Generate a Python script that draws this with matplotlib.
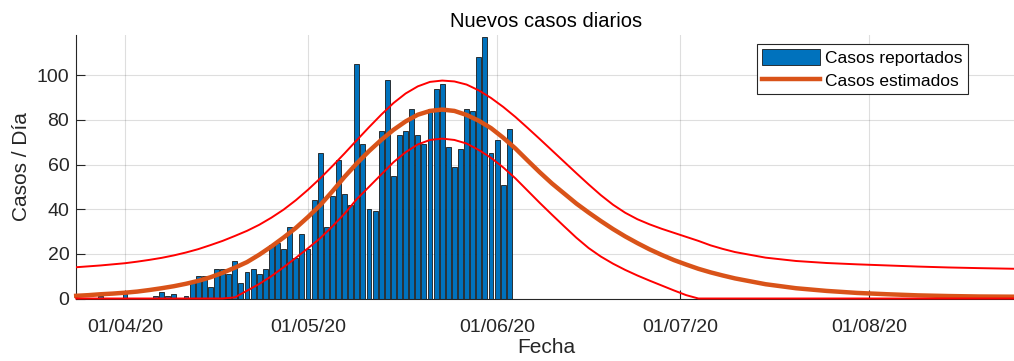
import numpy as np
import matplotlib
matplotlib.use('Agg')
import matplotlib.pyplot as plt
import matplotlib.dates as mdates

plt.rcParams['font.family'] = ['Liberation Sans', 'DejaVu Sans']

base = np.datetime64('2020-04-01')

# reported daily cases, one value per day starting 25/03/20
bar_start = np.datetime64('2020-03-25')
cases = [0, 0, 0, 1, 0, 0, 0, 2, 0, 0, 0, 0, 1, 3, 1, 2, 0, 1,
         8, 10, 10, 5, 13, 13, 11, 17, 7, 12, 13, 11, 13, 24, 25, 22,
         32, 18, 29, 22, 44, 65, 32, 46, 62, 47, 42, 105, 69, 40, 39,
         75, 98, 55, 73, 75, 85, 73, 69, 85, 94, 96, 68, 59, 67, 85,
         84, 108, 117, 65, 71, 51, 76]

# fitted curve (days after 01/04/20)
curve_days = list(range(-8, 101, 2)) + [105, 110, 115, 120, 125, 130,
                                          135, 140, 146]
estimated = [1.2, 1.5, 1.9, 2.2, 2.6, 3.1, 3.8, 4.6, 5.5, 6.6, 7.9, 9.5,
             11.5, 13.8, 16.3, 19.6, 23.3, 27.3, 31.6, 36.5, 41.8, 48,
             54.5, 60.5, 66, 71, 75.5, 79.3, 82.3, 84, 84.6, 84, 82.2,
             79.6, 76.3, 72, 67.2, 61.8, 56.5, 51.5, 47, 42.5, 38.5, 34.7,
             31.1, 27.8, 24.8, 22, 19.5, 17.2, 15.2, 13.3, 11.7, 10.3, 9,
             6.4, 4.6, 3.4, 2.5, 1.9, 1.4, 1.1, 0.9, 0.8]
upper = [14, 14.4, 14.8, 15.3, 15.8, 16.5, 17.3, 18.2, 19.3, 20.6, 22.1,
         23.9, 25.8, 28, 30.3, 33, 36.2, 39.8, 44, 48.7, 53.8, 59.3, 65,
         70.9, 76.7, 82.3, 87.5, 91.8, 95, 97, 97.6, 97.2, 95.8, 93.2,
         89.8, 85.8, 81.3, 76.4, 71.4, 66.3, 61.2, 56.1, 51.1, 46.3, 42,
         38.4, 35.5, 33.2, 31.2, 29.4, 27.6, 25.8, 23.8, 22.2, 20.8,
         18.3, 16.8, 15.9, 15.3, 14.8, 14.3, 13.9, 13.6, 13.3]
lower = [0, 0, 0, 0, 0, 0, 0, 0, 0, 0, 0, 0, 0, 0.5, 3.5, 6.5, 10, 14,
         18.2, 22.5, 27, 32.3, 38, 44.5, 50, 55.5, 61, 65.5, 69, 71,
         71.6, 71, 69.4, 66.5, 63, 58.7, 53.8, 48.3, 42.8, 37.5, 32.3,
         27.2, 22.6, 18.8, 15.6, 12.8, 10.3, 8, 5.8, 3.6, 1.5, 0, 0, 0,
         0, 0, 0, 0, 0, 0, 0, 0, 0, 0]

bar_dates = bar_start + np.arange(len(cases)).astype('timedelta64[D]')
curve_dates = base + np.array(curve_days).astype('timedelta64[D]')

fig = plt.figure(figsize=(10.14, 3.61), dpi=100)
ax = fig.add_axes([76.2 / 1014, 62.5 / 361, 939.4 / 1014, 263.5 / 361])

dark = '#262626'
bars = ax.bar(bar_dates, cases, width=0.8, color='#0072BD',
              edgecolor='#1a1a1a', linewidth=0.6, zorder=2)
est_line, = ax.plot(curve_dates, estimated, color='#D95319', linewidth=3.2,
                    zorder=3, clip_on=False)
ax.plot(curve_dates, upper, color='#FF0000', linewidth=1.4, zorder=4)
ax.plot(curve_dates, lower, color='#FF0000', linewidth=1.4, zorder=4,
        clip_on=False)

ax.set_xlim(curve_dates[0], curve_dates[-1])
ax.set_ylim(0, 118)
ax.set_yticks([0, 20, 40, 60, 80, 100])
ax.xaxis.set_major_locator(mdates.MonthLocator())
ax.xaxis.set_major_formatter(mdates.DateFormatter('%d/%m/%y'))

ax.grid(True, color=dark, alpha=0.15, linewidth=0.8)
ax.set_axisbelow(True)
for side in ['top', 'right']:
    ax.spines[side].set_visible(False)
for side in ['left', 'bottom']:
    ax.spines[side].set_color(dark)
    ax.spines[side].set_linewidth(0.8)
ax.tick_params(direction='in', length=6.5, width=0.8, colors=dark,
               labelsize=14)
ax.tick_params(axis='x', pad=14.5)
ax.tick_params(axis='y', pad=5)

ax.set_title('Nuevos casos diarios', fontsize=14.5, color='black', pad=6)
ax.set_xlabel('Fecha', fontsize=15, color=dark, labelpad=2)
ax.set_ylabel('Casos / Día', fontsize=15, color=dark, labelpad=4)

leg = ax.legend([bars, est_line], ['Casos reportados', 'Casos estimados'],
                loc='upper right', bbox_to_anchor=(0.949, 0.966),
                borderaxespad=0, fontsize=12.5, fancybox=False,
                framealpha=1, edgecolor=dark, handlelength=3.3,
                handleheight=1.0, labelspacing=0.35, borderpad=0.3,
                handletextpad=0.3)
leg.get_frame().set_linewidth(0.8)

fig.savefig('out.png', dpi=100)
